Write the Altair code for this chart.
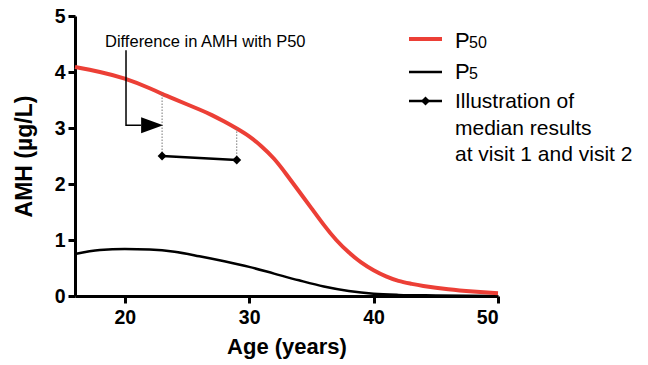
import altair as alt
import pandas as pd

# P50 curve
p50_age = [16, 18, 20, 22, 23, 24, 26, 27, 28, 29, 30, 31, 32, 33, 34, 35, 36, 37, 38, 39, 40, 41, 42, 43, 44, 46, 48, 50]
p50_val = [4.09, 4.00, 3.88, 3.71, 3.61, 3.515, 3.33, 3.23, 3.115, 2.99, 2.85, 2.67, 2.45, 2.17, 1.87, 1.57, 1.27, 1.00, 0.78, 0.60, 0.46, 0.35, 0.27, 0.22, 0.18, 0.12, 0.08, 0.05]

# P5 curve
p5_age = [16, 18, 20, 22, 24, 26, 28, 30, 32, 34, 36, 38, 40, 42, 45, 50]
p5_val = [0.75, 0.82, 0.84, 0.83, 0.79, 0.71, 0.62, 0.52, 0.40, 0.28, 0.17, 0.09, 0.04, 0.02, 0.01, 0.0]

# illustration of median results at visit 1 and visit 2
visit_age = [23, 29]
visit_val = [2.50, 2.43]
visit_p50 = [3.61, 2.99]

# annotation arrow path
arrow_age = [20.1, 20.1, 21.3]
arrow_val = [4.39, 3.05, 3.05]
arrow_head_age = [22.2]
arrow_head_val = [3.05]

FONT = "Liberation Sans"
RED = "#EC3F36"

df50 = pd.DataFrame({"age": p50_age, "amh": p50_val})
df5 = pd.DataFrame({"age": p5_age, "amh": p5_val})
dfv = pd.DataFrame({"age": visit_age, "amh": visit_val, "p50": visit_p50})
dfa = pd.DataFrame({"age": arrow_age, "amh": arrow_val, "o": [0, 1, 2]})
dfh = pd.DataFrame({"age": arrow_head_age, "amh": arrow_head_val})

xs = alt.Scale(domain=[16, 50], nice=False, zero=False)
ys = alt.Scale(domain=[0, 5], nice=False)

xax = alt.Axis(values=[20, 30, 40, 50], title="Age (years)", titlePadding=10)
yax = alt.Axis(values=[0, 1, 2, 3, 4, 5], title="AMH (µg/L)", titlePadding=18)

base_x = alt.X("age:Q", scale=xs, axis=xax)
base_y = alt.Y("amh:Q", scale=ys, axis=yax)

line50 = alt.Chart(df50).mark_line(color=RED, strokeWidth=4, interpolate="natural").encode(x=base_x, y=base_y)
line5 = alt.Chart(df5).mark_line(color="black", strokeWidth=2.5, interpolate="monotone").encode(x="age:Q", y="amh:Q")

dots = alt.Chart(dfv).mark_rule(color="#777777", strokeWidth=1, strokeDash=[1.5, 1.5]).encode(
    x="age:Q", y="amh:Q", y2="p50:Q")
vline = alt.Chart(dfv).mark_line(color="black", strokeWidth=2.5).encode(x="age:Q", y="amh:Q")
vpts = alt.Chart(dfv).mark_point(shape="diamond", filled=True, color="black", size=80, opacity=1).encode(
    x="age:Q", y="amh:Q")

arrow = alt.Chart(dfa).mark_line(color="black", strokeWidth=1.5).encode(x="age:Q", y="amh:Q", order="o:Q")
head = alt.Chart(dfh).mark_point(shape="M-1,-0.73L1,0L-1,0.73Z", filled=True, color="black",
                                 size=484, opacity=1).encode(x="age:Q", y="amh:Q")

ann = alt.Chart(pd.DataFrame({"t": ["Difference in AMH with P50"]})).mark_text(
    font=FONT, fontSize=16.5, align="left", baseline="alphabetic", color="black").encode(
    x=alt.value(30), y=alt.value(31), text="t:N")

# manual legend
leg_lines = pd.DataFrame({"k": ["a", "a", "b", "b", "c", "c"],
                          "px": [334, 367, 334, 367, 334, 367],
                          "py": [23, 23, 56, 56, 85, 85]})
legend_red = alt.Chart(leg_lines[leg_lines.k == "a"]).mark_line(color=RED, strokeWidth=4).encode(
    x=alt.X("px:Q", scale=None), y=alt.Y("py:Q", scale=None))
legend_blk = alt.Chart(leg_lines[leg_lines.k != "a"]).mark_line(color="black", strokeWidth=2.5).encode(
    x=alt.X("px:Q", scale=None), y=alt.Y("py:Q", scale=None), detail="k:N")
legend_dia = alt.Chart(pd.DataFrame({"px": [350.5], "py": [85]})).mark_point(
    shape="diamond", filled=True, color="black", size=80, opacity=1).encode(
    x=alt.X("px:Q", scale=None), y=alt.Y("py:Q", scale=None))

def txt(s, x, y, size):
    return alt.Chart(pd.DataFrame({"t": [s]})).mark_text(
        font=FONT, fontSize=size, align="left", baseline="alphabetic", color="black").encode(
        x=alt.value(x), y=alt.value(y), text="t:N")

leg_txt = [
    txt("P", 380, 32, 22), txt("50", 394, 32, 16),
    txt("P", 380, 63, 22), txt("5", 394, 63, 16),
    txt("Illustration of", 380, 92, 21),
    txt("median results", 380, 119, 21),
    txt("at visit 1 and visit 2", 380, 145, 21),
]

chart = alt.layer(line5, line50, dots, vline, vpts, arrow, head, ann,
                  legend_red, legend_blk, legend_dia, *leg_txt).properties(
    width=423, height=280,
    autosize=alt.AutoSizeParams(type="none"),
    padding={"left": 75, "top": 16, "right": 150, "bottom": 69},
).configure_view(stroke=None).configure_axis(
    grid=False, domainColor="black", domainWidth=3, tickColor="black", tickWidth=3, tickSize=7,
    labelFont=FONT, labelFontSize=19.5, labelFontWeight="bold", labelColor="black", labelPadding=3,
    titleFont=FONT, titleFontSize=22, titleFontWeight="bold", titleColor="black",
).configure_axisX(labelPadding=5).configure_axisY(titleFontSize=23)

chart.save("out.html", embed_options={"renderer": "svg", "actions": False})
